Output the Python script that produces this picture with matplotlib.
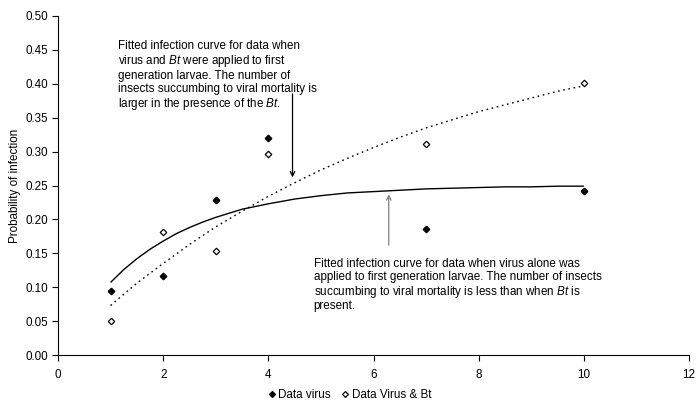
import numpy as np
import matplotlib
matplotlib.use("Agg")
import matplotlib.pyplot as plt

plt.rcParams["font.family"] = ["Liberation Sans", "DejaVu Sans"]
plt.rcParams["mathtext.fontset"] = "custom"
plt.rcParams["mathtext.rm"] = "Liberation Sans"
plt.rcParams["mathtext.it"] = "Liberation Sans:italic"

# Observed infection probabilities
x_obs = [1, 2, 3, 4, 7, 10]
virus = [0.094, 0.117, 0.229, 0.320, 0.186, 0.242]
virus_bt = [0.050, 0.181, 0.153, 0.297, 0.311, 0.401]

# Fitted infection curve, virus alone
x_fit_virus = [1, 1.25, 1.5, 1.75, 2, 2.25, 2.5, 2.75, 3, 3.5, 4, 4.5, 5, 5.5,
               6, 6.5, 7, 7.5, 8, 8.5, 9, 9.5, 10]
fit_virus = [0.107, 0.126, 0.142, 0.156, 0.168, 0.179, 0.188, 0.196, 0.203, 0.215,
             0.223, 0.230, 0.235, 0.239, 0.241, 0.243, 0.245, 0.246, 0.247, 0.248,
             0.248, 0.249, 0.249]

# Fitted infection curve, virus with Bt
x_fit_bt = [1, 1.5, 2, 2.5, 3, 3.5, 4, 4.5, 5, 5.5, 6, 6.5, 7, 7.5, 8, 8.5, 9, 9.5, 10]
fit_virus_bt = [0.073, 0.106, 0.135, 0.163, 0.189, 0.212, 0.234, 0.254, 0.273, 0.290,
                0.306, 0.321, 0.335, 0.347, 0.359, 0.369, 0.379, 0.389, 0.397]

x_ticks = [0, 2, 4, 6, 8, 10, 12]
y_ticks = [0.00, 0.05, 0.10, 0.15, 0.20, 0.25, 0.30, 0.35, 0.40, 0.45, 0.50]

FS = 8.4

fig = plt.figure(figsize=(6.97, 4.03), dpi=100)
ax = fig.add_axes([58 / 697, 1 - 355 / 403, 631 / 697, 339 / 403])

ax.plot(x_fit_virus, fit_virus, color="black", lw=1.0, solid_capstyle="butt",
        solid_joinstyle="round")
ax.plot(x_fit_bt, fit_virus_bt, color="black", lw=1.0, linestyle=(0, (1.2, 2.6)))

ax.plot(x_obs, virus, linestyle="none", marker="D", markersize=3.3,
        markerfacecolor="black", markeredgecolor="black", label="Data virus")
ax.plot(x_obs, virus_bt, linestyle="none", marker="D", markersize=3.3,
        markerfacecolor="white", markeredgecolor="black", markeredgewidth=0.9,
        label="Data Virus & Bt")

ax.set_xlim(0, 12)
ax.set_ylim(0, 0.5)
ax.set_xticks(x_ticks)
ax.set_xticklabels([str(t) for t in x_ticks])
ax.set_yticks(y_ticks)
ax.set_yticklabels([f"{t:.2f}" for t in y_ticks])
ax.tick_params(direction="out", length=4, width=0.8, labelsize=FS, pad=3)
ax.tick_params(axis="x", pad=6)
for side in ("top", "right"):
    ax.spines[side].set_visible(False)
for side in ("left", "bottom"):
    ax.spines[side].set_linewidth(0.8)
ax.set_ylabel("Probability of infection", fontsize=FS, labelpad=3)

txt_bt = ("Fitted infection curve for data when\n"
          "virus and $\\it{Bt}$ were applied to first\n"
          "generation larvae. The number of\n"
          "insects succumbing to viral mortality is\n"
          "larger in the presence of the $\\it{Bt}$.")
ax.text(1.15, 0.464, txt_bt, fontsize=FS, va="top", ha="left", linespacing=1.08)
ax.annotate("", xy=(4.46, 0.262), xytext=(4.46, 0.385),
            arrowprops=dict(arrowstyle="->", color="black", lw=0.9,
                            shrinkA=0, shrinkB=0, mutation_scale=8))

txt_v = ("Fitted infection curve for data when virus alone was\n"
         "applied to first generation larvae. The number of insects\n"
         "succumbing to viral mortality is less than when $\\it{Bt}$ is\n"
         "present.")
ax.text(4.86, 0.143, txt_v, fontsize=FS, va="top", ha="left", linespacing=1.08)
ax.annotate("", xy=(6.29, 0.237), xytext=(6.29, 0.162),
            arrowprops=dict(arrowstyle="->", color="#808080", lw=0.9,
                            shrinkA=0, shrinkB=0, mutation_scale=8))

fig.legend(loc="center", bbox_to_anchor=(350 / 697, 1 - 395 / 403), ncol=2,
           frameon=False, fontsize=FS, handlelength=0.5, handletextpad=0.3,
           columnspacing=1.0, markerscale=0.9)

fig.savefig("out.png", dpi=100)
